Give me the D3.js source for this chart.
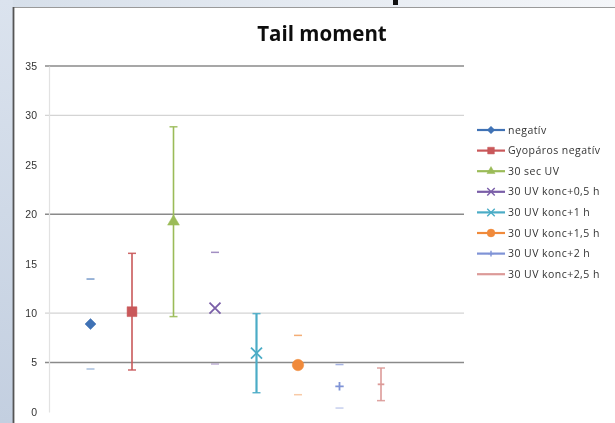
<!DOCTYPE html>
<html>
<head>
<meta charset="utf-8">
<script src="https://cdn.jsdelivr.net/npm/d3@7.9.0/dist/d3.min.js"></script>
<style>
  body { margin: 0; background: #fff; }
  svg { display: block; }
</style>
</head>
<body>
<svg id="chart" width="615" height="423"></svg>
<script>
// series as they appear in the legend
const seriesNames = ['negatív', 'Gyopáros negatív', '30 sec UV', '30 UV konc+0,5 h',
  '30 UV konc+1 h', '30 UV konc+1,5 h', '30 UV konc+2 h', '30 UV konc+2,5 h'];
const means = [8.9, 10.15, 19.25, 10.5, 5.95, 4.75, 2.6, 2.8];
const errors = [4.55, 5.9, 9.6, 5.65, 4.0, 3.0, 2.2, 1.65];
const yTicks = [0, 5, 10, 15, 20, 25, 30, 35];

// styling per series (Excel 2007 palette, as photographed)
const colors = ['#3f72b5', '#c9585a', '#9bbb59', '#7a5ea8', '#4bacc6', '#f08a3a', '#7f93d6', '#dc9a98'];
const markers = ['diamond', 'square', 'triangle', 'x', 'x', 'circle', 'plus', 'dash'];
const stemOpacity = [0, 1, 1, 0, 1, 0, 0, 1];

const svg = d3.select('#chart');
const W = 615, H = 423;

// photo background around the chart frame
const defs = svg.append('defs');
const gl = defs.append('linearGradient').attr('id', 'leftBg').attr('x1', 0).attr('y1', 0).attr('x2', 0).attr('y2', 1);
gl.append('stop').attr('offset', 0).attr('stop-color', '#dbe3ee');
gl.append('stop').attr('offset', 1).attr('stop-color', '#c3cfe0');
const gt = defs.append('linearGradient').attr('id', 'topBg').attr('x1', 0).attr('y1', 0).attr('x2', 1).attr('y2', 0);
gt.append('stop').attr('offset', 0).attr('stop-color', '#d6dfea');
gt.append('stop').attr('offset', 1).attr('stop-color', '#f4f6f9');
defs.append('filter').attr('id', 'soft')
  .append('feGaussianBlur').attr('stdDeviation', 0.45);

svg.append('rect').attr('width', W).attr('height', H).attr('fill', 'url(#topBg)');
svg.append('rect').attr('width', 13).attr('height', H).attr('fill', 'url(#leftBg)');
svg.append('rect').attr('x', 393).attr('y', 0).attr('width', 5).attr('height', 5).attr('fill', '#111');

const frame = svg.append('g').attr('filter', 'url(#soft)');
frame.append('rect').attr('x', 13).attr('y', 7).attr('width', W - 13).attr('height', H - 7).attr('fill', '#fff');
frame.append('line').attr('x1', 13).attr('x2', W).attr('y1', 7.5).attr('y2', 7.5)
  .attr('stroke', '#9a9a9a').attr('stroke-width', 1.2);
frame.append('line').attr('x1', 13.5).attr('x2', 13.5).attr('y1', 7).attr('y2', H)
  .attr('stroke', '#555').attr('stroke-width', 1.8);

const g = svg.append('g').attr('filter', 'url(#soft)');

const x = d3.scaleLinear().domain([0, 10]).range([49, 464]);
const y = d3.scaleLinear().domain([0, 35]).range([412, 66]);

// title
g.append('text')
  .attr('x', 322).attr('y', 41)
  .attr('text-anchor', 'middle')
  .attr('font-family', '"Open Sans", sans-serif')
  .attr('font-weight', 'bold')
  .attr('font-size', 20.5)
  .attr('fill', '#111')
  .text('Tail moment');

// gridlines: only some show up in the photo
const strongGrid = [35, 20, 5];
const lightGrid = [30, 10];
g.selectAll('.grid-strong').data(strongGrid).join('line')
  .attr('x1', 45).attr('x2', 464)
  .attr('y1', d => y(d)).attr('y2', d => y(d))
  .attr('stroke', '#8a8a8a').attr('stroke-width', 1.6);
g.selectAll('.grid-light').data(lightGrid).join('line')
  .attr('x1', 45).attr('x2', 464)
  .attr('y1', d => y(d)).attr('y2', d => y(d))
  .attr('stroke', '#d4d4d4').attr('stroke-width', 1.2);

// y axis
const yAxis = d3.axisLeft(y).tickValues(yTicks).tickSize(0).tickPadding(12);
const ya = g.append('g').attr('transform', 'translate(49,0)').call(yAxis);
ya.select('.domain').attr('stroke', '#e2e2e2').attr('stroke-width', 1.2);
ya.selectAll('text')
  .attr('font-family', '"Liberation Sans", Arial, sans-serif')
  .attr('font-size', 10.5)
  .attr('fill', '#333');

function markerPath(type, s) {
  const h = s / 2;
  switch (type) {
    case 'diamond': return `M0,${-h}L${h},0L0,${h}L${-h},0Z`;
    case 'square': return d3.symbol(d3.symbolSquare, s * s * 0.8)();
    case 'triangle': return d3.symbol(d3.symbolTriangle, s * s * 0.5)();
    case 'circle': return d3.symbol(d3.symbolCircle, s * s * 0.85)();
    case 'x': return `M${-h},${-h}L${h},${h}M${-h},${h}L${h},${-h}`;
    case 'plus': { const p = s * 0.38; return `M${-p},0L${p},0M0,${-p}L0,${p}`; }
    case 'dash': { const p = s * 0.3; return `M${-p},0L${p},0`; }
  }
}
const stroked = t => t === 'x' || t === 'plus' || t === 'dash';

const pts = seriesNames.map((name, i) => ({
  name, i, mean: means[i], err: errors[i], cx: x(i + 1)
}));

// error bars
const eb = g.selectAll('.eb').data(pts).join('g').attr('class', 'eb');
eb.append('line')
  .attr('x1', d => d.cx).attr('x2', d => d.cx)
  .attr('y1', d => y(d.mean + d.err)).attr('y2', d => y(d.mean - d.err))
  .attr('stroke', d => colors[d.i]).attr('stroke-width', d => d.i === 4 ? 2.2 : 1.6)
  .attr('stroke-opacity', d => stemOpacity[d.i]);
[1, -1].forEach(sign => {
  eb.append('line')
    .attr('x1', d => d.cx - 4).attr('x2', d => d.cx + 4)
    .attr('y1', d => y(d.mean + sign * d.err)).attr('y2', d => y(d.mean + sign * d.err))
    .attr('stroke', d => colors[d.i]).attr('stroke-width', 1.5)
    .attr('stroke-opacity', d => stemOpacity[d.i] ? 0.9 : (sign > 0 ? 0.7 : 0.45));
});

// markers
g.selectAll('.pt').data(pts).join('path')
  .attr('transform', d => `translate(${d.cx},${y(d.mean)})`)
  .attr('d', d => markerPath(markers[d.i], 11))
  .attr('fill', d => stroked(markers[d.i]) ? 'none' : colors[d.i])
  .attr('stroke', d => colors[d.i])
  .attr('stroke-width', d => stroked(markers[d.i]) ? 1.8 : 0.5);

// legend
const lg = g.append('g').attr('transform', 'translate(477,130)');
const li = lg.selectAll('g').data(pts).join('g')
  .attr('transform', d => `translate(0,${d.i * 20.6})`);
li.append('line').attr('x1', 0).attr('x2', 28)
  .attr('stroke', d => colors[d.i]).attr('stroke-width', 2.2);
li.append('path')
  .attr('transform', 'translate(14,0)')
  .attr('d', d => markers[d.i] === 'dash' ? null : markerPath(markers[d.i], 7.5))
  .attr('fill', d => stroked(markers[d.i]) ? 'none' : colors[d.i])
  .attr('stroke', d => colors[d.i])
  .attr('stroke-width', d => stroked(markers[d.i]) ? 1.4 : 0.5);
li.append('text')
  .attr('x', 31).attr('dy', '0.35em')
  .attr('font-family', '"Open Sans", sans-serif')
  .attr('font-size', 10.5)
  .attr('letter-spacing', 0.45)
  .attr('fill', '#333')
  .text(d => d.name);
</script>
</body>
</html>
